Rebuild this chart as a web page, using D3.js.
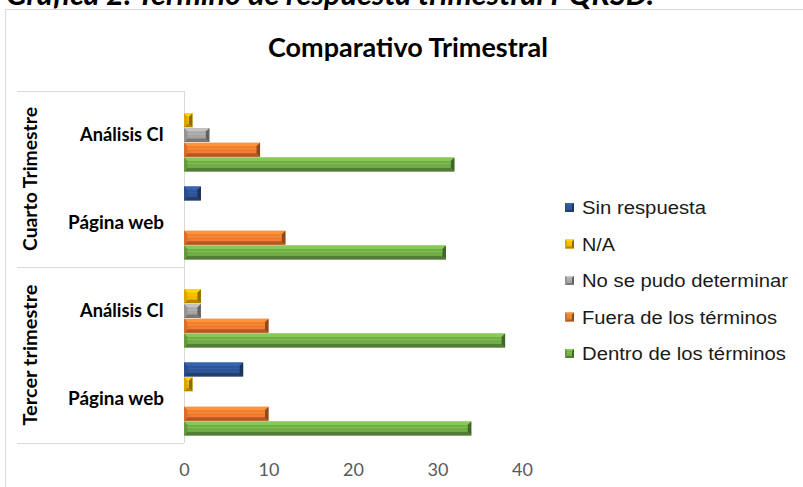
<!DOCTYPE html>
<html><head><meta charset="utf-8">
<script src="https://cdn.jsdelivr.net/npm/d3@7"></script>
<style>body{margin:0;background:#fff;} svg{display:block;}</style>
</head><body><svg id="c" width="803" height="487"></svg>
<script>
const captionText = "Gráfica 2. Término de respuesta trimestral PQRSD.";
const titleText = "Comparativo Trimestral";
const groups = ["Cuarto Trimestre", "Tercer trimestre"];
const categories = ["Análisis CI", "Página web", "Análisis CI", "Página web"];
const categoryGroup = [0, 0, 1, 1];
const seriesNames = ["Sin respuesta", "N/A", "No se pudo determinar", "Fuera de los términos", "Dentro de los términos"];
const seriesColors = ["#2f5597", "#f5b800", "#a5a5a5", "#ed7d31", "#70ad47"];
const sinRespuesta = [0, 2, 0, 7];
const nA = [1, 0, 2, 1];
const noDeterminar = [3, 0, 2, 0];
const fuera = [9, 12, 10, 10];
const dentro = [32, 31, 38, 34];
const xTicks = [0, 10, 20, 30, 40];

const seriesValues = [sinRespuesta, nA, noDeterminar, fuera, dentro];

const svg = d3.select("#c");
const W = 803, H = 487;
const calibri = "Lato, 'Open Sans', sans-serif";

// fit a text element to a target width
function fit(sel, w) {
  sel.attr("textLength", w).attr("lengthAdjust", "spacingAndGlyphs");
  return sel;
}

// chart frame border
svg.append("path").attr("d", `M5.5,${H} L5.5,9.5 L${W},9.5`).attr("fill", "none").attr("stroke", "#d9d9d9").attr("stroke-width", 1);

// caption (cropped at top)
fit(svg.append("text").attr("x", 6).attr("y", 5).text(captionText)
  .attr("font-family", calibri).attr("font-weight", 700).attr("font-style", "italic")
  .attr("font-size", 30).attr("fill", "#000"), 648);

// title
fit(svg.append("text").attr("x", 268).attr("y", 57).text(titleText)
  .attr("font-family", calibri).attr("font-weight", 700).attr("font-size", 27).attr("fill", "#000"), 280);

const plotTop = 91, plotBottom = 443;
const x = d3.scaleLinear().domain([0, 40]).range([184, 522]);
const idx = d3.range(categories.length);
const y = d3.scaleBand().domain(idx).range([plotTop, plotBottom]).paddingInner(0).paddingOuter(0);
const ys = d3.scaleBand().domain(d3.range(seriesNames.length)).range([7.5, y.bandwidth() - 7.5]).paddingInner(0.06);

// category axis frame lines
const grid = svg.append("g").attr("stroke", "#d9d9d9").attr("stroke-width", 1).attr("fill", "none");
const groupEdges = [plotTop, y(2), plotBottom];
groupEdges.forEach(v => {
  grid.append("line").attr("x1", 17).attr("x2", x(0)).attr("y1", Math.round(v) + 0.5).attr("y2", Math.round(v) + 0.5);
});
grid.append("line").attr("x1", Math.round(x(0)) + 0.5).attr("x2", Math.round(x(0)) + 0.5).attr("y1", plotTop).attr("y2", plotBottom);

// bevel bar function
function bevelBar(g, x0, y0, w, h, color, b) {
  const c = d3.color(color);
  b = Math.min(b, w / 2, h / 2);
  const x1 = x0 + w, y1 = y0 + h;
  g.append("rect").attr("x", x0).attr("y", y0).attr("width", w).attr("height", h).attr("fill", c.formatHex());
  g.append("polygon").attr("points", [[x0, y0], [x1, y0], [x1 - b, y0 + b], [x0 + b, y0 + b]].join(" ")).attr("fill", c.brighter(0.45).formatHex());
  g.append("polygon").attr("points", [[x0, y1], [x1, y1], [x1 - b, y1 - b], [x0 + b, y1 - b]].join(" ")).attr("fill", c.darker(0.9).formatHex());
  g.append("polygon").attr("points", [[x1, y0], [x1, y1], [x1 - b, y1 - b], [x1 - b, y0 + b]].join(" ")).attr("fill", c.darker(1.5).formatHex());
  g.append("polygon").attr("points", [[x0, y0], [x0, y1], [x0 + b, y1 - b], [x0 + b, y0 + b]].join(" ")).attr("fill", c.darker(0.3).formatHex());
  g.append("line").attr("x1", x0 + b).attr("x2", x1 - b).attr("y1", y0 + h * 0.42).attr("y2", y0 + h * 0.42)
    .attr("stroke", c.brighter(0.35).formatHex()).attr("stroke-width", 1.2).attr("opacity", 0.8);
}

// bars
const barsG = svg.append("g");
idx.forEach(i => {
  seriesValues.forEach((vals, s) => {
    const v = vals[i];
    if (!v) return;
    bevelBar(barsG, x(0), y(i) + ys(s), x(v) - x(0), ys.bandwidth(), seriesColors[s], 3.5);
  });
});

// x axis labels
const axis = d3.axisBottom(x).tickValues(xTicks).tickSize(0).tickPadding(0).tickFormat(d3.format("d"));
const ax = svg.append("g").attr("transform", `translate(0,476)`).call(axis);
ax.select(".domain").remove();
ax.selectAll("text").attr("font-family", calibri).attr("font-size", 18).attr("fill", "#595959").attr("dy", 0);

// category labels
const catWidths = [84, 96, 84, 96];
svg.append("g").selectAll("text").data(idx).join("text")
  .attr("x", i => 164 - catWidths[i]).attr("y", i => y(i) + y.bandwidth() / 2).attr("dy", "0.35em")
  .text(i => categories[i])
  .attr("textLength", i => catWidths[i]).attr("lengthAdjust", "spacingAndGlyphs")
  .attr("font-family", calibri).attr("font-weight", 700).attr("font-size", 18.5).attr("fill", "#000");

// group labels rotated
const groupWidths = [144, 141];
groups.forEach((gname, gi) => {
  const members = idx.filter(i => categoryGroup[i] === gi);
  const cy = (y(members[0]) + y(members[members.length - 1]) + y.bandwidth()) / 2;
  fit(svg.append("text").attr("transform", `translate(31,${cy}) rotate(-90)`).attr("dy", "0.35em")
    .attr("x", -groupWidths[gi] / 2).text(gname)
    .attr("font-family", calibri).attr("font-weight", 700).attr("font-size", 18.5).attr("fill", "#000"), groupWidths[gi]);
});

// legend
const legendWidths = [124, 33, 206, 195, 204];
const legend = svg.append("g");
seriesNames.forEach((name, s) => {
  const cy = 208 + s * 36.5;
  const mg = legend.append("g");
  bevelBar(mg, 565, cy - 5, 9, 9, seriesColors[s], 2);
  fit(legend.append("text").attr("x", 582).attr("y", cy).attr("dy", "0.36em")
    .text(name).attr("font-family", "'Liberation Sans', Arial, sans-serif").attr("font-size", 17.5).attr("fill", "#1a1a1a"), legendWidths[s]);
});
</script></body></html>
